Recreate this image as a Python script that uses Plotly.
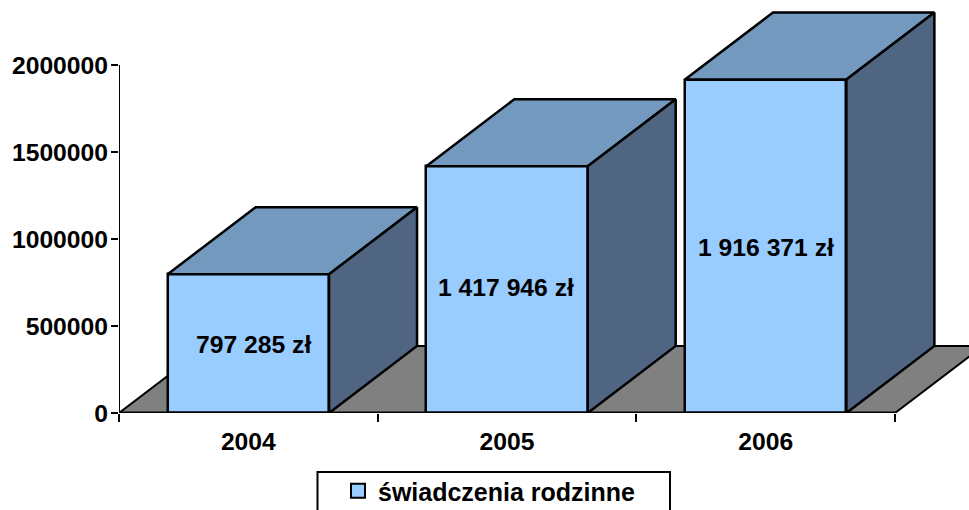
import plotly.graph_objects as go

years = ["2004", "2005", "2006"]
values = [797285, 1417946, 1916371]
labels = ["797 285 zł", "1 417 946 zł", "1 916 371 zł"]
y_ticks = [0, 500000, 1000000, 1500000, 2000000]
series_name = "świadczenia rodzinne"

W, H = 969, 510
L, T, B = 119, 6, 97
plot_w, plot_h = W - L, H - T - B
ZERO = T + plot_h
px_per_cat = 258.67
px_per_val = 348 / 2000000
x_min, x_max = -0.5, -0.5 + plot_w / px_per_cat
y_max = plot_h / px_per_val
DX, DY = 88 / px_per_cat, 67 / px_per_val
BAR_W = 0.624
FRONT, TOP, SIDE, FLOOR = "#99CCFF", "#7399BF", "#4F6581", "#808080"
FONT = dict(family="Liberation Sans, Arial, sans-serif", size=24.7, color="black")
xs = list(range(len(years)))
label_xshift = [5, -1, 0]
label_yshift = [-1, 2, -1]

fig = go.Figure()
fig.add_trace(go.Bar(
    x=xs, y=values, width=BAR_W, name=series_name, showlegend=False,
    marker=dict(color=FRONT, line=dict(color="black", width=2.5)), cliponaxis=False,
))
for x, v in zip(xs, values):
    l, r = x - BAR_W / 2, x + BAR_W / 2
    fig.add_trace(go.Scatter(
        x=[l, r, r + DX, l + DX, l], y=[v, v, v + DY, v + DY, v],
        mode="lines", fill="toself", fillcolor=TOP,
        line=dict(color="black", width=2.5), showlegend=False, hoverinfo="skip"))
    fig.add_trace(go.Scatter(
        x=[r, r + DX, r + DX, r, r], y=[0, DY, v + DY, v, 0],
        mode="lines", fill="toself", fillcolor=SIDE,
        line=dict(color="black", width=2.5), showlegend=False, hoverinfo="skip"))

for x, v, t, dx, dy in zip(xs, values, labels, label_xshift, label_yshift):
    fig.add_annotation(x=x, y=v / 2, text=f"<b>{t}</b>", showarrow=False, font=FONT,
                       xshift=dx, yshift=dy)

# axis lines
fig.add_trace(go.Scatter(x=[x_min, x_min], y=[-8 / px_per_val, y_ticks[-1]], mode="lines",
                         line=dict(color="black", width=2), showlegend=False,
                         hoverinfo="skip", cliponaxis=False))
fig.add_trace(go.Scatter(x=[x_min, xs[-1] + 0.5], y=[0, 0], mode="lines",
                         line=dict(color="black", width=3), showlegend=False,
                         hoverinfo="skip", cliponaxis=False))

# legend entry
fig.add_trace(go.Scatter(x=[None], y=[None], mode="markers", name=series_name, showlegend=True,
                         marker=dict(symbol="square", size=14, color=FRONT,
                                     line=dict(color="black", width=2))))

x0, x1 = x_min, xs[-1] + 0.5
floor_path = f"M{x0},0 L{x0 + DX},{DY} L{x1 + DX},{DY} L{x1},0 Z"
fig.add_shape(type="path", path=floor_path, xref="x", yref="y", layer="below",
              fillcolor=FLOOR, line=dict(color="black", width=2))

# legend box
fig.add_shape(type="rect", xref="paper", yref="paper", layer="above",
              x0=(317.5 - L) / plot_w, x1=(670 - L) / plot_w,
              y0=(ZERO - 520) / plot_h, y1=(ZERO - 472) / plot_h,
              line=dict(color="black", width=2), fillcolor="rgba(0,0,0,0)")

fig.update_layout(
    width=W, height=H, margin=dict(l=L, r=0, t=T, b=B, pad=0, autoexpand=False),
    paper_bgcolor="white", plot_bgcolor="white", bargap=0,
    font=FONT, showlegend=True,
    legend=dict(x=(338 - L) / plot_w, y=(ZERO - 468) / plot_h, xanchor="left", yanchor="top",
                bgcolor="rgba(0,0,0,0)", borderwidth=0,
                font=dict(family=FONT["family"], size=25, color="black", weight="bold")),
    xaxis=dict(range=[x_min, x_max], tickmode="array", tickvals=xs,
               ticktext=[f"<b>{y}</b>" for y in years],
               ticks="outside", ticklen=6, tickcolor="rgba(0,0,0,0)", showgrid=False,
               zeroline=False, showline=False, tickfont=FONT,
               minor=dict(tickmode="array", tickvals=[x - 0.5 for x in xs] + [xs[-1] + 0.5],
                          ticks="outside", ticklen=8, tickwidth=2, tickcolor="black", showgrid=False)),
    yaxis=dict(range=[0, y_max], tickmode="array", tickvals=y_ticks,
               ticktext=[f"<b>{v}</b>" for v in y_ticks],
               ticks="outside", ticklen=7, tickwidth=2, tickcolor="black", ticklabelstandoff=-2,
               showgrid=False, zeroline=False, showline=False, tickfont=FONT),
)
fig.write_html("out.html", config={"displayModeBar": False},
               post_script="document.body.style.margin='0';document.documentElement.style.overflow='hidden';")
